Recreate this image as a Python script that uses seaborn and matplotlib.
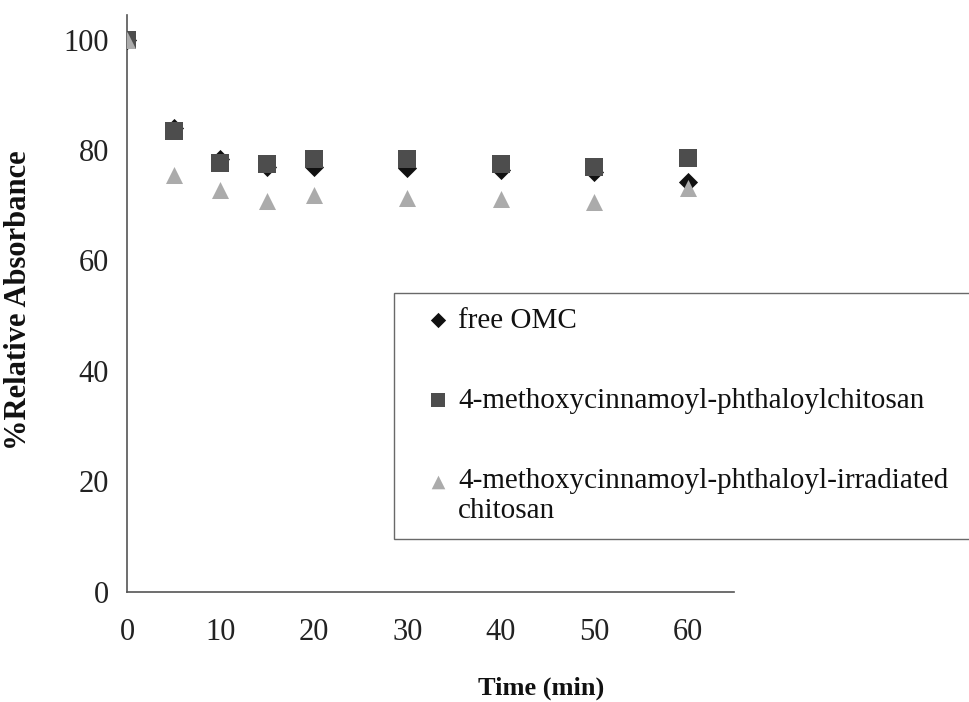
import matplotlib
matplotlib.use("Agg")
import matplotlib.pyplot as plt
import seaborn as sns
import pandas as pd

# ---- data ----
time_min = [0, 5, 10, 15, 20, 30, 40, 50, 60]
free_omc = [100, 84.0, 78.3, 77.0, 77.0, 76.8, 76.4, 76.0, 74.3]
mcpc = [100, 83.5, 77.7, 77.4, 78.3, 78.3, 77.5, 77.0, 78.6]
mcpic = [100, 75.5, 72.8, 70.7, 71.9, 71.4, 71.2, 70.5, 73.2]
series_names = ["free OMC",
                "4-methoxycinnamoyl-phthaloylchitosan",
                "4-methoxycinnamoyl-phthaloyl-irradiated\nchitosan"]
x_ticks = [0, 10, 20, 30, 40, 50, 60]
y_ticks = [0, 20, 40, 60, 80, 100]

sns.set_theme(style="white")
plt.rcParams['font.family'] = ['Liberation Serif', 'DejaVu Serif']

fig = plt.figure(figsize=(9.7, 7.02), dpi=100)
ax = fig.add_axes([0.131, 0.157, 0.626, 0.822])

df = pd.DataFrame({
    "Time": time_min * 3,
    "Value": free_omc + mcpc + mcpic,
    "Series": [series_names[0]] * len(time_min) + [series_names[1]] * len(time_min)
              + [series_names[2]] * len(time_min),
})

styles = {
    series_names[0]: dict(marker="D", color="#111111", s=95),
    series_names[1]: dict(marker="s", color="#4d4d4d", s=150),
    series_names[2]: dict(marker="^", color="#ababab", s=150),
}
for name in series_names:
    sub = df[df["Series"] == name]
    st = styles[name]
    sns.scatterplot(data=sub, x="Time", y="Value", ax=ax, marker=st["marker"],
                    color=st["color"], s=st["s"], linewidth=0, label=name, zorder=3)

ax.set_xlim(0, 65)
ax.set_ylim(0, 104.5)
ax.set_xticks(x_ticks)
ax.set_yticks(y_ticks)
ax.tick_params(axis="both", labelsize=22, length=7, width=1, direction="out",
               colors="#222222")
ax.tick_params(axis="y", pad=6)
ax.tick_params(axis="x", pad=12)
for side in ["top", "right"]:
    ax.spines[side].set_visible(False)
for side in ["left", "bottom"]:
    ax.spines[side].set_color("#555555")
    ax.spines[side].set_linewidth(1.2)

ax.set_xlabel("Time (min)", fontsize=19, fontweight="bold", color="#111111")
ax.set_ylabel("%Relative Absorbance", fontsize=22, fontweight="bold", color="#111111")
ax.xaxis.label.set_va("center")
ax.xaxis.set_label_coords(0.682, -0.168)
ax.yaxis.set_label_coords(-0.155, 0.506)

leg = ax.legend(loc="upper left", bbox_to_anchor=(0.406, 0.235, 0.70, 0.348),
                bbox_transform=fig.transFigure, mode="expand", fontsize=21,
                frameon=True, fancybox=False, shadow=False, edgecolor="#444444",
                borderpad=0.5, labelspacing=1.85, handlelength=2.0,
                handletextpad=-0.3, borderaxespad=0.0, markerscale=0.8)
leg.get_frame().set_linewidth(1.0)
for t in leg.get_texts():
    t.set_color("#111111")

# align the two-line entry's marker with its first text line
h3 = leg.legend_handles[2]
offs = h3.get_offsets().copy()
offs[:, 1] += 12
h3.set_offsets(offs)

fig.savefig("out.png", dpi=100, facecolor="white")
